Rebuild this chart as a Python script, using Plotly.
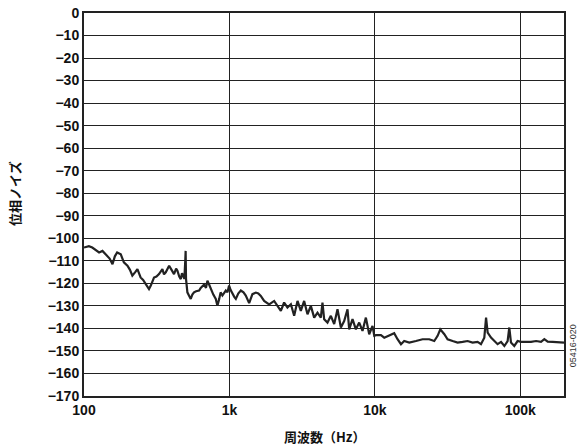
import plotly.graph_objects as go

freq_hz = [
    100, 108, 114, 120, 127, 134, 141, 150, 157, 163, 169, 179, 188, 199, 207, 215,
    225, 233, 245, 255, 266, 280, 288, 296, 303, 315, 328, 346, 355, 365, 385, 400,
    416, 430, 439, 452, 463, 472, 480, 490, 497, 500, 503, 510, 514, 528, 542, 556,
    571, 590, 619, 635, 652, 670, 690, 706, 725, 744, 775, 806, 827, 850, 870, 895,
    920, 944, 970, 995, 1020, 1049, 1080, 1107, 1150, 1198, 1250, 1296, 1330, 1367,
    1440, 1520, 1580, 1644, 1733, 1876, 2031, 2140, 2258, 2378, 2506, 2647, 2788,
    2940, 3098, 3266, 3443, 3630, 3828, 4034, 4253, 4365, 4484, 4725, 4984, 5254,
    5538, 5843, 6155, 6489, 6665, 7025, 7408, 7810, 8230, 8680, 9150, 9640, 9910,
    10180, 11020, 11610, 12560, 13590, 14330, 15130, 15920, 17250, 19180, 21300,
    23660, 25630, 27030, 28200, 30060, 31650, 34280, 37080, 40150, 43460, 47010,
    50910, 53700, 56620, 58210, 59700, 62950, 66370, 69880, 73800, 77800, 81900,
    84100, 86400, 91000, 95900, 101200, 109600, 118600, 128500, 139000, 146500,
    154500, 167200, 185800, 200000,
]

phase_noise_dbc = [
    -104.1, -103.5, -104.1, -105.0, -106.3, -105.6, -107.1, -109.0, -111.5, -108.0,
    -106.3, -107.1, -110.7, -112.2, -114.0, -116.6, -115.0, -113.7, -117.4, -118.5,
    -120.3, -122.5, -121.0, -119.0, -117.4, -117.0, -115.9, -113.7, -116.0, -115.1,
    -112.2, -114.0, -115.9, -113.5, -114.4, -117.0, -118.1, -115.5, -117.0, -118.0,
    -110.0, -105.6, -118.0, -121.0, -124.0, -125.5, -126.9, -125.0, -124.0, -123.5,
    -123.2, -122.0, -121.0, -120.5, -122.0, -118.8, -120.5, -122.5, -125.0, -126.9,
    -129.9, -127.0, -124.0, -125.4, -124.0, -123.2, -124.0, -121.0, -123.0, -124.7,
    -126.0, -126.9, -124.5, -123.2, -124.0, -125.4, -127.0, -128.8,
    -124.8, -124.1, -124.5, -125.6, -127.8, -129.3, -127.8, -130.0, -132.2, -128.5,
    -130.7, -129.3, -134.4, -127.8, -132.2, -127.8, -133.7, -130.0, -135.2, -133.0,
    -135.2, -128.5, -135.9, -137.4, -134.4, -138.1, -131.5, -139.6, -136.7, -131.5,
    -140.4, -135.9, -140.4, -137.4, -141.1, -135.2, -142.6, -138.9, -143.3,
    -143.0, -143.0, -144.1, -143.0, -142.1, -144.8, -147.0, -145.6, -146.3, -145.6,
    -144.8, -144.8, -145.6, -143.3, -140.4, -142.6, -144.8, -145.6, -146.3, -146.0,
    -145.6, -146.3, -146.0, -147.0, -144.1, -135.2, -141.9, -144.1, -145.6, -147.0,
    -146.0, -147.8, -145.6, -139.6, -146.3, -147.8, -145.6, -146.0, -146.0, -146.0,
    -145.6, -146.0, -144.8, -145.9, -146.0, -146.3, -146.3,
]

x_tick_vals = [100, 1000, 10000, 100000]
x_tick_text = ["100", "1k", "10k", "100k"]
y_tick_vals = list(range(0, -180, -10))

font_family = "Liberation Sans, Arial, sans-serif"

fig = go.Figure()
fig.add_trace(go.Scatter(
    x=freq_hz, y=phase_noise_dbc, mode="lines",
    line=dict(color="#222222", width=2.2),
    showlegend=False, hoverinfo="skip",
))

fig.update_layout(
    width=583, height=448,
    margin=dict(l=84, r=19, t=13, b=52),
    paper_bgcolor="white", plot_bgcolor="white",
    font=dict(family=font_family, size=13, color="#111111"),
)
fig.update_xaxes(
    type="log", range=[2, 5.301],
    tickvals=x_tick_vals, ticktext=x_tick_text,
    showgrid=True, gridcolor="#222222", gridwidth=1.4,
    showline=True, linecolor="#222222", linewidth=2, mirror=True,
    ticks="", zeroline=False, automargin=False,
    tickfont=dict(family=font_family, size=14, weight="bold", color="#111111"),
)
fig.update_yaxes(
    range=[-170, 0], tickvals=y_tick_vals,
    showgrid=True, gridcolor="#222222", gridwidth=1.4,
    showline=True, linecolor="#222222", linewidth=2, mirror=True,
    ticks="", zeroline=False, automargin=False,
    tickfont=dict(family=font_family, size=14, weight="bold", color="#111111"),
)

fig.add_annotation(
    text="位相ノイズ", xref="paper", yref="paper",
    x=-0.146, y=0.53, xanchor="center", yanchor="middle",
    textangle=-90, showarrow=False,
    font=dict(family="Noto Sans CJK JP", size=13, weight="bold", color="#111111"),
)
fig.add_annotation(
    text="周波数（Hz）", xref="paper", yref="paper",
    x=0.5, y=-0.107, xanchor="center", yanchor="middle",
    showarrow=False,
    font=dict(family="Noto Sans CJK JP", size=13, weight="bold", color="#111111"),
)
fig.add_annotation(
    text="05416-020", xref="paper", yref="paper",
    x=1.0 + 9 / 480, y=0.13, xanchor="center", yanchor="middle",
    textangle=-90, showarrow=False,
    font=dict(family=font_family, size=9, color="#333333"),
)

fig.write_html(
    "out.html",
    config={"displayModeBar": False},
    post_script="document.body.style.margin='0px';document.body.style.padding='0px';",
)
